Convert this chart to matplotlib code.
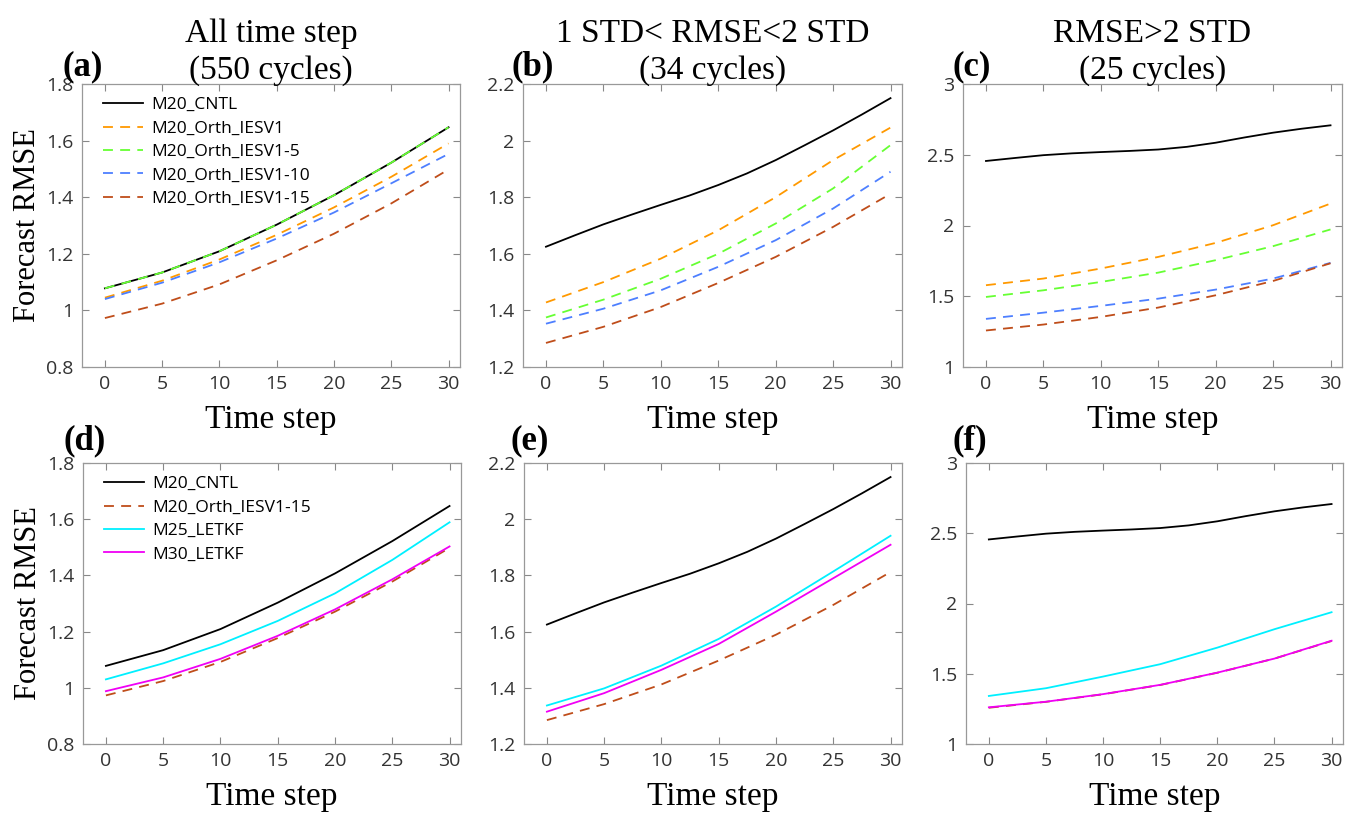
import matplotlib
matplotlib.use("Agg")
import matplotlib.pyplot as plt
from matplotlib.ticker import FuncFormatter

t = [0, 5, 10, 15, 20, 25, 30]
t_fine = [0, 2.5, 5, 7.5, 10, 12.5, 15, 17.5, 20, 22.5, 25, 27.5, 30]

# Panel (a)/(d): all time steps
a_cntl   = [1.078, 1.134, 1.209, 1.303, 1.407, 1.522, 1.647]
a_iesv1  = [1.045, 1.105, 1.180, 1.267, 1.364, 1.472, 1.590]
a_iesv5  = [1.078, 1.134, 1.209, 1.303, 1.407, 1.522, 1.647]
a_iesv10 = [1.040, 1.098, 1.170, 1.254, 1.346, 1.449, 1.553]
a_iesv15 = [0.973, 1.024, 1.092, 1.177, 1.271, 1.378, 1.498]
d_m25    = [1.030, 1.087, 1.155, 1.238, 1.336, 1.455, 1.589]
d_m30    = [0.988, 1.037, 1.103, 1.185, 1.279, 1.386, 1.503]

# Panel (b)/(e): 1 STD < RMSE < 2 STD  (CNTL read every 2.5 steps)
b_cntl   = [1.625, 1.665, 1.704, 1.739, 1.773, 1.806, 1.843, 1.884, 1.931, 1.983, 2.036, 2.092, 2.150]
b_iesv1  = [1.428, 1.500, 1.583, 1.683, 1.800, 1.931, 2.046]
b_iesv5  = [1.375, 1.438, 1.512, 1.600, 1.707, 1.831, 1.984]
b_iesv10 = [1.353, 1.406, 1.471, 1.554, 1.648, 1.760, 1.890]
b_iesv15 = [1.285, 1.342, 1.412, 1.497, 1.589, 1.695, 1.812]
e_m25    = [1.337, 1.398, 1.479, 1.574, 1.689, 1.814, 1.941]
e_m30    = [1.315, 1.381, 1.464, 1.556, 1.671, 1.790, 1.909]

# Panel (c)/(f): RMSE > 2 STD  (CNTL read every 2.5 steps)
c_cntl   = [2.456, 2.477, 2.497, 2.510, 2.519, 2.527, 2.537, 2.556, 2.585, 2.622, 2.656, 2.684, 2.708]
c_iesv1  = [1.578, 1.625, 1.696, 1.778, 1.877, 2.002, 2.155]
c_iesv5  = [1.495, 1.542, 1.601, 1.667, 1.755, 1.854, 1.972]
c_iesv10 = [1.340, 1.384, 1.432, 1.483, 1.547, 1.625, 1.736]
c_iesv15 = [1.258, 1.300, 1.354, 1.420, 1.507, 1.608, 1.733]
f_m25    = [1.342, 1.397, 1.480, 1.568, 1.686, 1.817, 1.938]
f_m30    = [1.261, 1.301, 1.355, 1.421, 1.508, 1.608, 1.735]

titles = ["All time step\n(550 cycles)", "1 STD< RMSE<2 STD\n(34 cycles)", "RMSE>2 STD\n(25 cycles)"]
panel_labels = ["(a)", "(b)", "(c)", "(d)", "(e)", "(f)"]
names = ["M20_CNTL", "M20_Orth_IESV1", "M20_Orth_IESV1-5", "M20_Orth_IESV1-10",
         "M20_Orth_IESV1-15", "M25_LETKF", "M30_LETKF"]
ylims = [(0.8, 1.8), (1.2, 2.2), (1.0, 3.0)]
yticks = [[0.8, 1.0, 1.2, 1.4, 1.6, 1.8], [1.2, 1.4, 1.6, 1.8, 2.0, 2.2], [1.0, 1.5, 2.0, 2.5, 3.0]]

C_BLACK = "#000000"
C_ORANGE = "#FF9900"
C_GREEN = "#66FF33"
C_BLUE = "#4D7FFF"
C_BROWN = "#BF4D1A"
C_CYAN = "#00F0FF"
C_MAG = "#F000F5"

SERIF = "Liberation Serif"
SANS = "Open Sans"

W, H = 1345, 815
fig = plt.figure(figsize=(W / 100, H / 100), dpi=100)

def px_axes(left, top, right, bottom):
    return fig.add_axes([left / W, 1 - bottom / H, (right - left) / W, (bottom - top) / H])

boxes = [(82, 84, 460, 367), (523, 84, 902, 367), (963, 84, 1342, 367),
         (83, 463, 461, 744), (524, 463, 902, 744), (966, 463, 1343, 744)]
axes = [px_axes(*b) for b in boxes]

dash = (0, (5.5, 4))
lw = 1.3

def tx(series):
    return t_fine if len(series) == len(t_fine) else t

top_series = [(a_cntl, a_iesv1, a_iesv5, a_iesv10, a_iesv15),
              (b_cntl, b_iesv1, b_iesv5, b_iesv10, b_iesv15),
              (c_cntl, c_iesv1, c_iesv5, c_iesv10, c_iesv15)]
bot_series = [(a_cntl, a_iesv15, d_m25, d_m30),
              (b_cntl, b_iesv15, e_m25, e_m30),
              (c_cntl, c_iesv15, f_m25, f_m30)]

for i in range(3):
    ax = axes[i]
    s = top_series[i]
    ax.plot(tx(s[0]), s[0], color=C_BLACK, lw=lw, label=names[0])
    ax.plot(tx(s[1]), s[1], color=C_ORANGE, lw=lw, ls=dash, label=names[1])
    ax.plot(tx(s[2]), s[2], color=C_GREEN, lw=lw, ls=dash, label=names[2])
    ax.plot(tx(s[3]), s[3], color=C_BLUE, lw=lw, ls=dash, label=names[3])
    ax.plot(tx(s[4]), s[4], color=C_BROWN, lw=lw, ls=dash, label=names[4])
    ax = axes[i + 3]
    s = bot_series[i]
    ax.plot(tx(s[0]), s[0], color=C_BLACK, lw=lw, label=names[0])
    ax.plot(tx(s[1]), s[1], color=C_BROWN, lw=lw, ls=dash, label=names[4])
    ax.plot(tx(s[2]), s[2], color=C_CYAN, lw=lw, label=names[5])
    ax.plot(tx(s[3]), s[3], color=C_MAG, lw=lw, label=names[6])

fmt = FuncFormatter(lambda v, p: ("%g" % round(v, 3)))
for k, ax in enumerate(axes):
    col = k % 3
    ax.set_xlim(-2, 31)
    ax.set_ylim(*ylims[col])
    ax.set_xticks([0, 5, 10, 15, 20, 25, 30])
    ax.set_yticks(yticks[col])
    ax.yaxis.set_major_formatter(fmt)
    ax.tick_params(direction="in", top=True, right=True, length=5, width=0.8,
                   colors="#888888", labelcolor="#333333", labelsize=14, pad=6)
    for lab in ax.get_xticklabels() + ax.get_yticklabels():
        lab.set_fontfamily(SANS)
    for sp in ax.spines.values():
        sp.set_color("#999999")
        sp.set_linewidth(0.9)
    ax.set_xlabel("Time step", fontfamily=SERIF, fontsize=24, labelpad=8)
    if col == 0:
        ax.set_ylabel("Forecast RMSE", fontfamily=SERIF, fontsize=22, labelpad=3)
    if k < 3:
        ax.set_title(titles[col], fontfamily=SERIF, fontsize=24, pad=4, linespacing=1.25)

for ax in (axes[0], axes[3]):
    ax.legend(loc="upper left", frameon=False, prop={"family": SANS, "size": 12.5},
              handlelength=2.3, handletextpad=0.5, labelspacing=0.42,
              borderaxespad=0.35, bbox_to_anchor=(0.02, 1.0))

label_pos = [(83, 67), (533, 67), (972, 67), (85, 441), (530, 441), (970, 441)]
for lab, (x, y) in zip(panel_labels, label_pos):
    fig.text(x / W, 1 - y / H, lab, fontfamily=SERIF, fontweight="bold", fontsize=25,
             ha="center", va="center")

fig.savefig("out.png", dpi=100)
